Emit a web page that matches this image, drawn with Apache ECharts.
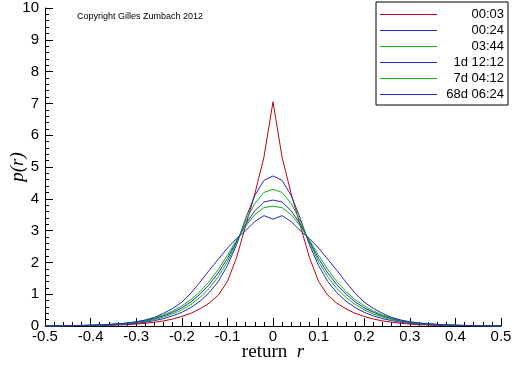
<!DOCTYPE html>
<html>
<head>
<meta charset="utf-8">
<script src="https://cdn.jsdelivr.net/npm/echarts@6/dist/echarts.min.js"></script>
<style>
  html, body { margin: 0; padding: 0; background: #fff; }
  #chart { width: 512px; height: 366px; }
</style>
</head>
<body>
<div id="chart"></div>
<script>
// return grid r
const returns = [
  -0.5, -0.48, -0.46, -0.44, -0.42, -0.4, -0.38, -0.36, -0.34, -0.32,
  -0.3, -0.28, -0.26, -0.24, -0.22, -0.2, -0.18, -0.16, -0.14, -0.12,
  -0.1, -0.08, -0.06, -0.04, -0.02, 0, 0.02, 0.04, 0.06, 0.08,
  0.1, 0.12, 0.14, 0.16, 0.18, 0.2, 0.22, 0.24, 0.26, 0.28,
  0.3, 0.32, 0.34, 0.36, 0.38, 0.4, 0.42, 0.44, 0.46, 0.48, 0.5
];

const labels = ["00:03", "00:24", "03:44", "1d 12:12", "7d 04:12", "68d 06:24"];
const colors = ["#c00010", "#2828c0", "#10b010", "#2828c0", "#10b010", "#2828c0"];

// p(r) for each time horizon
const p0003 = [
  0.001, 0.002, 0.003, 0.005, 0.007, 0.01, 0.015, 0.02, 0.03, 0.04,
  0.06, 0.085, 0.12, 0.16, 0.22, 0.3, 0.4, 0.54, 0.72, 0.97,
  1.4, 2.15, 3.15, 4.15, 5.3, 7.05, 5.3, 4.15, 3.15, 2.15,
  1.4, 0.97, 0.72, 0.54, 0.4, 0.3, 0.22, 0.16, 0.12, 0.085,
  0.06, 0.04, 0.03, 0.02, 0.015, 0.01, 0.007, 0.005, 0.003, 0.002, 0.001
];
const p0024 = [
  0.002, 0.003, 0.005, 0.008, 0.011, 0.016, 0.023, 0.032, 0.045, 0.06,
  0.085, 0.12, 0.17, 0.23, 0.32, 0.43, 0.58, 0.78, 1.05, 1.4,
  1.9, 2.55, 3.38, 4.1, 4.58, 4.72, 4.58, 4.1, 3.38, 2.55,
  1.9, 1.4, 1.05, 0.78, 0.58, 0.43, 0.32, 0.23, 0.17, 0.12,
  0.085, 0.06, 0.045, 0.032, 0.023, 0.016, 0.011, 0.008, 0.005, 0.003, 0.002
];
const p0344 = [
  0.003, 0.005, 0.007, 0.01, 0.014, 0.02, 0.028, 0.04, 0.055, 0.075,
  0.105, 0.145, 0.2, 0.28, 0.38, 0.51, 0.68, 0.9, 1.18, 1.55,
  2.02, 2.62, 3.3, 3.85, 4.2, 4.3, 4.2, 3.85, 3.3, 2.62,
  2.02, 1.55, 1.18, 0.9, 0.68, 0.51, 0.38, 0.28, 0.2, 0.145,
  0.105, 0.075, 0.055, 0.04, 0.028, 0.02, 0.014, 0.01, 0.007, 0.005, 0.003
];
const p1d = [
  0.003, 0.005, 0.008, 0.011, 0.016, 0.023, 0.032, 0.045, 0.062, 0.085,
  0.12, 0.165, 0.23, 0.32, 0.43, 0.57, 0.76, 1.0, 1.3, 1.67,
  2.12, 2.66, 3.2, 3.62, 3.9, 3.96, 3.9, 3.62, 3.2, 2.66,
  2.12, 1.67, 1.3, 1.0, 0.76, 0.57, 0.43, 0.32, 0.23, 0.165,
  0.12, 0.085, 0.062, 0.045, 0.032, 0.023, 0.016, 0.011, 0.008, 0.005, 0.003
];
const p7d = [
  0.003, 0.005, 0.008, 0.012, 0.018, 0.026, 0.036, 0.05, 0.07, 0.095,
  0.13, 0.18, 0.25, 0.35, 0.47, 0.63, 0.83, 1.08, 1.4, 1.78,
  2.22, 2.7, 3.14, 3.5, 3.72, 3.77, 3.72, 3.5, 3.14, 2.7,
  2.22, 1.78, 1.4, 1.08, 0.83, 0.63, 0.47, 0.35, 0.25, 0.18,
  0.13, 0.095, 0.07, 0.05, 0.036, 0.026, 0.018, 0.012, 0.008, 0.005, 0.003
];
const p68d = [
  0.003, 0.005, 0.008, 0.012, 0.018, 0.025, 0.035, 0.05, 0.07, 0.09,
  0.13, 0.19, 0.27, 0.4, 0.55, 0.75, 1.03, 1.38, 1.75, 2.1,
  2.45, 2.75, 3.0, 3.28, 3.47, 3.36, 3.47, 3.28, 3.0, 2.75,
  2.45, 2.1, 1.75, 1.38, 1.03, 0.75, 0.55, 0.4, 0.27, 0.19,
  0.13, 0.09, 0.07, 0.05, 0.035, 0.025, 0.018, 0.012, 0.008, 0.005, 0.003
];

const densities = [p0003, p0024, p0344, p1d, p7d, p68d];

const chart = echarts.init(document.getElementById("chart"));

const axisFont = { color: "#000", fontFamily: "Liberation Sans, Arial, sans-serif", fontSize: 15 };
const serif = "Liberation Serif, Times New Roman, serif";

chart.setOption({
  animation: false,
  backgroundColor: "#fff",
  grid: { left: 45, right: 11, top: 8, bottom: 40, outerBoundsMode: "none", containLabel: false },
  legend: {
    orient: "vertical",
    right: 4,
    top: 2,
    padding: [6, 4, 4, 4],
    itemGap: 3,
    itemWidth: 57,
    itemHeight: 1,
    icon: "rect",
    borderColor: "#000",
    borderWidth: 1,
    backgroundColor: "#fff",
    data: labels.map((n, k) => ({ name: n, itemStyle: { color: colors[k] } })),
    formatter: (name) => "{a|" + name + "}",
    textStyle: {
      rich: {
        a: { width: 62, align: "right", fontSize: 13, lineHeight: 13, color: "#000", fontFamily: "Liberation Sans, Arial, sans-serif" }
      }
    }
  },
  xAxis: {
    type: "value",
    min: -0.5,
    max: 0.5,
    interval: 0.1,
    splitLine: { show: false },
    axisLine: { onZero: false, lineStyle: { color: "#000", width: 1 } },
    axisTick: { inside: true, length: 8, lineStyle: { color: "#000" } },
    minorTick: { show: true, splitNumber: 5, length: 4, lineStyle: { color: "#000" } },
    axisLabel: Object.assign({ margin: 3, formatter: (v) => (Math.abs(v) < 1e-9 ? "0" : String(+v.toFixed(1))) }, axisFont),
    name: "return  {i|r}",
    nameLocation: "middle",
    nameGap: 26,
    nameMoveOverlap: false,
    nameTextStyle: {
      color: "#000",
      fontFamily: serif,
      fontSize: 19,
      verticalAlign: "middle",
      rich: { i: { fontStyle: "italic", fontFamily: serif, fontSize: 19 } }
    }
  },
  yAxis: {
    type: "value",
    min: 0,
    max: 10,
    interval: 1,
    splitLine: { show: false },
    axisLine: { show: true, onZero: false, lineStyle: { color: "#000", width: 1 } },
    axisTick: { inside: true, length: 8, lineStyle: { color: "#000" } },
    minorTick: { show: true, splitNumber: 5, length: 4, lineStyle: { color: "#000" } },
    axisLabel: Object.assign({ margin: 6 }, axisFont),
    name: "p(r)",
    nameLocation: "middle",
    nameGap: 27,
    nameMoveOverlap: false,
    nameTextStyle: {
      color: "#000",
      fontFamily: serif,
      fontStyle: "italic",
      fontSize: 19,
      verticalAlign: "middle"
    }
  },
  graphic: [
    {
      type: "text",
      left: 77,
      top: 12,
      style: {
        text: "Copyright Gilles Zumbach 2012",
        fill: "#000",
        font: "9px Liberation Sans, Arial, sans-serif"
      }
    }
  ],
  series: labels.map((name, k) => ({
    name: name,
    type: "line",
    symbol: "none",
    smooth: false,
    itemStyle: { color: colors[k] },
    lineStyle: { width: 1, color: colors[k] },
    data: returns.map((r, i) => [r, densities[k][i]])
  }))
});
</script>
</body>
</html>
